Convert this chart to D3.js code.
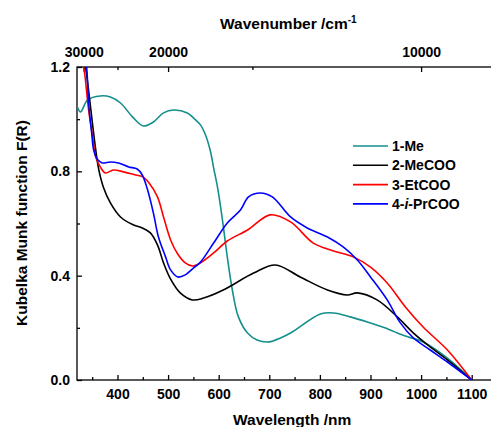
<!DOCTYPE html>
<html>
<head>
<meta charset="utf-8">
<script src="https://cdn.jsdelivr.net/npm/d3@7"></script>
<style>
  body { margin: 0; background: #fff; }
  svg { display: block; font-family: "Liberation Sans", Arial, sans-serif; font-weight: bold; }
  .axis text { font-size: 14px; font-weight: bold; fill: #000; }
  .axis path, .axis line { stroke: #000; stroke-width: 1.3; }
  .curve { fill: none; stroke-width: 1.6; }
</style>
</head>
<body>
<div id="chart"></div>
<script>
// data: [wavelength nm, F(R)]
var me = [[320,1.050],[327,1.028],[341,1.074],[366,1.089],[386,1.085],[406,1.062],[430,1.008],[451,0.974],
  [471,0.989],[491,1.024],[511,1.035],[538,1.024],[550,1.005],[564,0.978],[574,0.939],[584,0.874],[590,0.813],
  [598,0.736],[607,0.620],[617,0.472],[627,0.345],[639,0.242],[657,0.180],[676,0.153],[700,0.146],[722,0.161],[742,0.180],
  [801,0.253],[827,0.257],[860,0.242],[894,0.222],[939,0.192],[953,0.180],[975,0.165],[1004,0.146],
  [1052,0.084],[1100,0.0]];
var meCOO = [[333,1.227],[337,1.196],[362,0.817],[372,0.740],[386,0.679],[406,0.625],[432,0.594],[449,0.583],
  [465,0.564],[479,0.518],[491,0.449],[505,0.387],[524,0.334],[548,0.307],[570,0.314],[609,0.345],[669,0.410],
  [712,0.441],[761,0.395],[815,0.345],[854,0.326],[874,0.334],[913,0.307],[953,0.242],[985,0.180],
  [1018,0.127],[1052,0.077],[1100,0.0]];
var etCOO = [[331,1.220],[335,1.177],[343,1.035],[351,0.932],[357,0.855],[366,0.817],[376,0.794],[392,0.805],
  [412,0.798],[436,0.786],[451,0.778],[461,0.759],[479,0.702],[491,0.625],[505,0.537],[519,0.483],[534,0.449],
  [548,0.437],[564,0.449],[590,0.487],[617,0.533],[657,0.575],[702,0.633],[742,0.606],[787,0.525],[827,0.495],
  [866,0.472],[900,0.433],[933,0.372],[969,0.280],[1004,0.203],[1052,0.115],[1100,0.0]];
var prCOO = [[337,1.220],[339,1.200],[343,1.062],[349,0.947],[353,0.882],[361,0.844],[370,0.832],[386,0.836],
  [402,0.832],[422,0.817],[439,0.809],[449,0.786],[459,0.732],[471,0.640],[481,0.548],[495,0.472],[505,0.422],
  [519,0.395],[534,0.403],[550,0.429],[564,0.452],[590,0.525],[617,0.602],[643,0.652],[659,0.702],[682,0.717],
  [706,0.702],[742,0.625],[775,0.583],[815,0.548],[846,0.510],[874,0.460],[900,0.395],[933,0.307],[959,0.219],
  [985,0.161],[1018,0.115],[1052,0.069],[1100,0.0]];

var seriesNames = ["1-Me", "2-MeCOO", "3-EtCOO", "4-i-PrCOO"];
var seriesColors = ["#138f8d", "#000000", "#ff0000", "#0000ff"];
var seriesData = [me, meCOO, etCOO, prCOO];

var xMajor = [400, 500, 600, 700, 800, 900, 1000, 1100];
var xMinor = [350, 450, 550, 650, 750, 850, 950, 1050];
var yMajor = [0.0, 0.4, 0.8, 1.2];
var yMinor = [0.2, 0.6, 1.0];
var wnMajor = [30000, 20000, 10000];
var wnMinor = [25000, 15000];

var W = 491, H = 427;
var m = {left: 77, top: 67, right: 497, bottom: 380};

var x = d3.scaleLinear().domain([320, 1150]).range([m.left, m.right]);
var y = d3.scaleLinear().domain([0, 1.2]).range([m.bottom, m.top]);

var svg = d3.select("#chart").append("svg").attr("width", W).attr("height", H);

svg.append("clipPath").attr("id", "plot")
   .append("rect").attr("x", m.left).attr("y", m.top)
   .attr("width", m.right - m.left).attr("height", m.bottom - m.top);

// frame
svg.append("rect").attr("x", m.left).attr("y", m.top)
   .attr("width", m.right - m.left).attr("height", m.bottom - m.top)
   .attr("fill", "none").attr("stroke", "#000").attr("stroke-width", 1.3);

// bottom axis
svg.append("g").attr("class", "axis").attr("transform", "translate(0," + m.bottom + ")")
   .call(d3.axisBottom(x).tickValues(xMajor).tickSize(-5).tickPadding(9).tickFormat(d3.format("d")))
   .call(function(g) { g.select(".domain").remove(); });
svg.append("g").attr("class", "axis").attr("transform", "translate(0," + m.bottom + ")")
   .call(d3.axisBottom(x).tickValues(xMinor).tickSize(-3).tickFormat(""))
   .call(function(g) { g.select(".domain").remove(); });

// left axis
svg.append("g").attr("class", "axis").attr("transform", "translate(" + m.left + ",0)")
   .call(d3.axisLeft(y).tickValues(yMajor).tickSize(-5).tickPadding(7).tickFormat(d3.format(".1f")))
   .call(function(g) { g.select(".domain").remove(); });
svg.append("g").attr("class", "axis").attr("transform", "translate(" + m.left + ",0)")
   .call(d3.axisLeft(y).tickValues(yMinor).tickSize(-3).tickFormat(""))
   .call(function(g) { g.select(".domain").remove(); });

// top axis: wavenumber, placed at 1e7 / cm-1 nm
svg.append("g").attr("class", "axis").attr("transform", "translate(0," + m.top + ")")
   .call(d3.axisTop(x).tickValues(wnMajor.map(function(w) { return 1e7 / w; }))
          .tickSize(-5).tickPadding(10)
          .tickFormat(function(d) { return Math.round(1e7 / d); }))
   .call(function(g) { g.select(".domain").remove(); });
svg.append("g").attr("class", "axis").attr("transform", "translate(0," + m.top + ")")
   .call(d3.axisTop(x).tickValues(wnMinor.map(function(w) { return 1e7 / w; }))
          .tickSize(-3).tickFormat(""))
   .call(function(g) { g.select(".domain").remove(); });

// titles
var topTitle = svg.append("text").attr("x", 220).attr("y", 29).style("font-size", "15.5px");
topTitle.append("tspan").text("Wavenumber /cm");
topTitle.append("tspan").attr("dy", -6).style("font-size", "10px").text("-1");

svg.append("text").attr("x", 233).attr("y", 425).style("font-size", "15.5px").text("Wavelength /nm");

svg.append("text").attr("transform", "translate(27,223) rotate(-90)")
   .attr("text-anchor", "middle").style("font-size", "15.5px")
   .text("Kubelka Munk function F(R)");

// curves
var line = d3.line()
  .x(function(d) { return x(d[0]); })
  .y(function(d) { return y(d[1]); })
  .curve(d3.curveCatmullRom.alpha(0.5));

var plot = svg.append("g").attr("clip-path", "url(#plot)");
seriesData.forEach(function(s, i) {
  plot.append("path").attr("class", "curve")
      .attr("d", line(s))
      .attr("stroke", seriesColors[i]);
});

// legend
var legend = svg.append("g").attr("transform", "translate(353,146)");
seriesNames.forEach(function(name, i) {
  var row = legend.append("g").attr("transform", "translate(0," + (i * 19.3) + ")");
  row.append("line").attr("x1", 0).attr("x2", 35).attr("y1", 0).attr("y2", 0)
     .attr("stroke", seriesColors[i]).attr("stroke-width", 1.6);
  var t = row.append("text").attr("x", 39).attr("y", 5).style("font-size", "14px");
  if (name.indexOf("-i-") > 0) {
    t.append("tspan").text("4-");
    t.append("tspan").style("font-style", "italic").text("i");
    t.append("tspan").text("-PrCOO");
  } else {
    t.text(name);
  }
});
</script>
</body>
</html>
